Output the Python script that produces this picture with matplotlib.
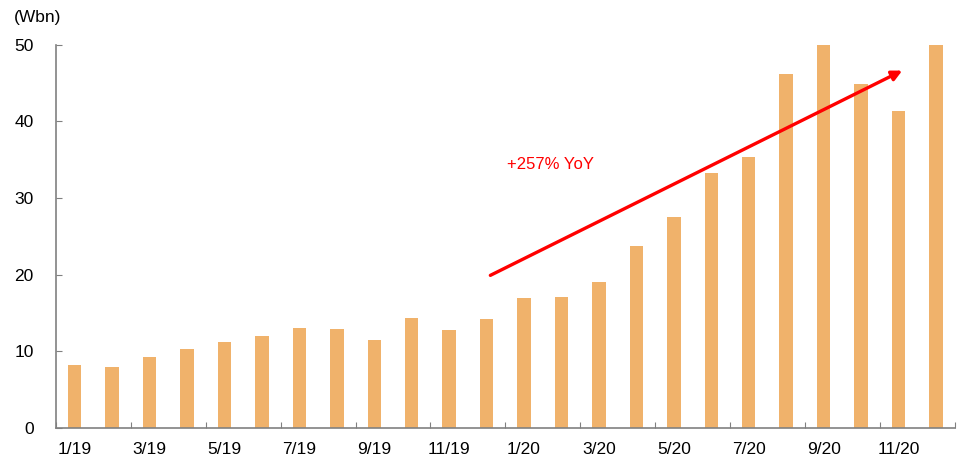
import numpy as np
import matplotlib.pyplot as plt
from matplotlib.ticker import FixedLocator

plt.rcParams['font.family'] = ['Liberation Sans', 'DejaVu Sans']

# Monthly values, Jan 2019 - Dec 2020 (Wbn)
months = ['1/19', '2/19', '3/19', '4/19', '5/19', '6/19', '7/19', '8/19',
          '9/19', '10/19', '11/19', '12/19', '1/20', '2/20', '3/20', '4/20',
          '5/20', '6/20', '7/20', '8/20', '9/20', '10/20', '11/20', '12/20']
values = [8.2, 8.0, 9.3, 10.3, 11.2, 12.0, 13.1, 12.95, 11.5, 14.4, 12.8, 14.25,
          16.9, 17.1, 19.0, 23.7, 27.5, 33.2, 35.3, 46.1, 50.0, 44.8, 41.3, 50.0]
yticks = [0, 10, 20, 30, 40, 50]

# trend arrow (category position, value)
arrow_start = (11.1, 19.9)
arrow_end = (22.1, 46.6)
arrow_text = '+257% YoY'
arrow_text_pos = (11.55, 34.4)

bar_color = '#F0B26B'
axis_color = '#808080'

fig = plt.figure(figsize=(9.62, 4.65), dpi=100)
ax = fig.add_axes([0.0582, 0.0796, 0.9342, 0.8247])

x = np.arange(len(months))
ax.bar(x, values, width=0.36, color=bar_color, edgecolor='none', zorder=2)

ax.set_xlim(-0.5, len(months) - 0.5)
ax.set_ylim(0, 50)

for side in ['top', 'right']:
    ax.spines[side].set_visible(False)
for side in ['left', 'bottom']:
    ax.spines[side].set_color(axis_color)
    ax.spines[side].set_linewidth(1.2)

ax.set_yticks(yticks)
ax.tick_params(axis='y', direction='in', length=4, color=axis_color,
               labelsize=12.5, pad=16, labelcolor='black')

# boundary ticks every two months, labels on every other month
ax.xaxis.set_major_locator(FixedLocator(np.arange(-0.5, len(months), 2)))
ax.xaxis.set_minor_locator(FixedLocator(x[::2]))
ax.set_xticklabels([])
ax.set_xticklabels(months[::2], minor=True)
ax.tick_params(axis='x', which='major', direction='in', length=4, color=axis_color)
ax.tick_params(axis='x', which='minor', length=0, labelsize=12.5, pad=10)

ax.annotate('', xy=arrow_end, xytext=arrow_start,
            arrowprops=dict(arrowstyle='-|>,head_length=0.6,head_width=0.3',
                            color='#FF0000', lw=2.4, shrinkA=0, shrinkB=0),
            zorder=3)
ax.text(arrow_text_pos[0], arrow_text_pos[1], arrow_text, color='#FF0000',
        fontsize=12, ha='left', va='center')

fig.text(0.014, 0.962, '(Wbn)', fontsize=12.5, ha='left', va='center')

fig.savefig('out.png', dpi=100)
